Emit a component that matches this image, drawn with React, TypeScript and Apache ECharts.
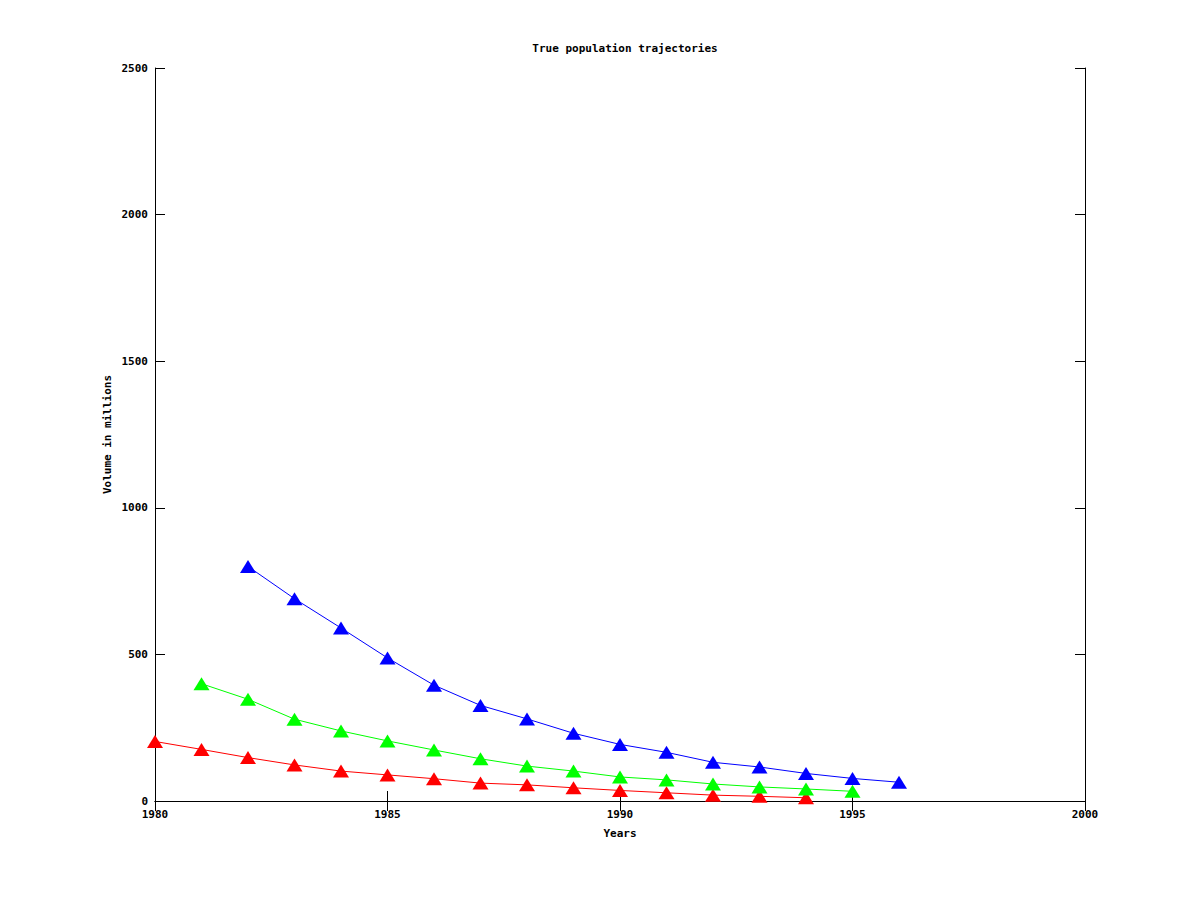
import React, { useEffect, useRef } from "react";
import * as echarts from "echarts";

const redYears = [1980, 1981, 1982, 1983, 1984, 1985, 1986, 1987, 1988, 1989, 1990, 1991, 1992, 1993, 1994];
const redValues = [203, 176, 148, 123, 102, 89, 76, 61, 55, 45, 36, 28, 20, 16, 11];

const greenYears = [1981, 1982, 1983, 1984, 1985, 1986, 1987, 1988, 1989, 1990, 1991, 1992, 1993, 1994, 1995];
const greenValues = [400, 347, 279, 239, 205, 174, 144, 119, 102, 82, 72, 58, 48, 41, 33];

const blueYears = [1982, 1983, 1984, 1985, 1986, 1987, 1988, 1989, 1990, 1991, 1992, 1993, 1994, 1995, 1996];
const blueValues = [800, 690, 590, 488, 395, 326, 280, 231, 193, 166, 132, 116, 94, 77, 64];

const FONT = "'DejaVu Sans Mono', monospace";

function mkSeries(name: string, years: number[], values: number[], color: string) {
  return {
    name,
    type: "line",
    data: years.map((y, i) => [y, values[i]]),
    symbol: "triangle",
    symbolSize: [16, 13],
    showSymbol: true,
    lineStyle: { color, width: 1 },
    itemStyle: { color, borderWidth: 0 },
    xAxisIndex: 0,
    yAxisIndex: 0,
  };
}

export default function App() {
  const ref = useRef<HTMLDivElement>(null);
  useEffect(() => {
    if (!ref.current) return;
    const chart = echarts.init(ref.current, null, { renderer: "svg" });
    const tickStyle = { color: "#000", width: 1 };
    const labelStyle = { color: "#000", fontFamily: FONT, fontSize: 11, fontWeight: "bold" as const };
    chart.setOption({
      animation: false,
      backgroundColor: "#fff",
      title: {
        text: "True population trajectories",
        left: 620,
        textAlign: "center",
        top: 38,
        textStyle: { color: "#000", fontFamily: FONT, fontSize: 11, fontWeight: "bold" },
      },
      grid: { left: 155, right: 115, top: 68, bottom: 99, containLabel: false },
      xAxis: [
        {
          type: "value",
          min: 1980,
          max: 2000,
          interval: 5,
          name: "Years",
          nameLocation: "middle",
          nameGap: 27,
          nameMoveOverlap: false,
          nameTextStyle: labelStyle,
          axisLine: { show: true, lineStyle: tickStyle },
          axisTick: { show: true, inside: true, length: 10, lineStyle: tickStyle },
          axisLabel: { ...labelStyle, margin: 8, formatter: (v: number) => String(v) },
          splitLine: { show: false },
        },
        {
          type: "value",
          position: "top",
          min: 1980,
          max: 2000,
          interval: 5,
          axisLine: { show: true, lineStyle: tickStyle },
          axisTick: { show: true, inside: true, length: 10, lineStyle: tickStyle },
          axisLabel: { show: false },
          splitLine: { show: false },
        },
      ],
      yAxis: [
        {
          type: "value",
          min: 0,
          max: 2500,
          interval: 500,
          name: "Volume in millions",
          nameLocation: "middle",
          nameGap: 42,
          nameMoveOverlap: false,
          nameRotate: 90,
          nameTextStyle: labelStyle,
          axisLine: { show: true, lineStyle: tickStyle },
          axisTick: { show: true, inside: true, length: 10, lineStyle: tickStyle },
          axisLabel: { ...labelStyle, margin: 7, formatter: (v: number) => String(v) },
          splitLine: { show: false },
        },
        {
          type: "value",
          position: "right",
          min: 0,
          max: 2500,
          interval: 500,
          axisLine: { show: true, lineStyle: tickStyle },
          axisTick: { show: true, inside: true, length: 10, lineStyle: tickStyle },
          axisLabel: { show: false },
          splitLine: { show: false },
        },
      ],
      series: [
        mkSeries("red", redYears, redValues, "#ff0000"),
        mkSeries("green", greenYears, greenValues, "#00ff00"),
        mkSeries("blue", blueYears, blueValues, "#0000ff"),
      ],
    });
    return () => chart.dispose();
  }, []);
  return <div ref={ref} style={{ width: 1200, height: 900, position: "absolute", left: 0, top: 0 }} />;
}
